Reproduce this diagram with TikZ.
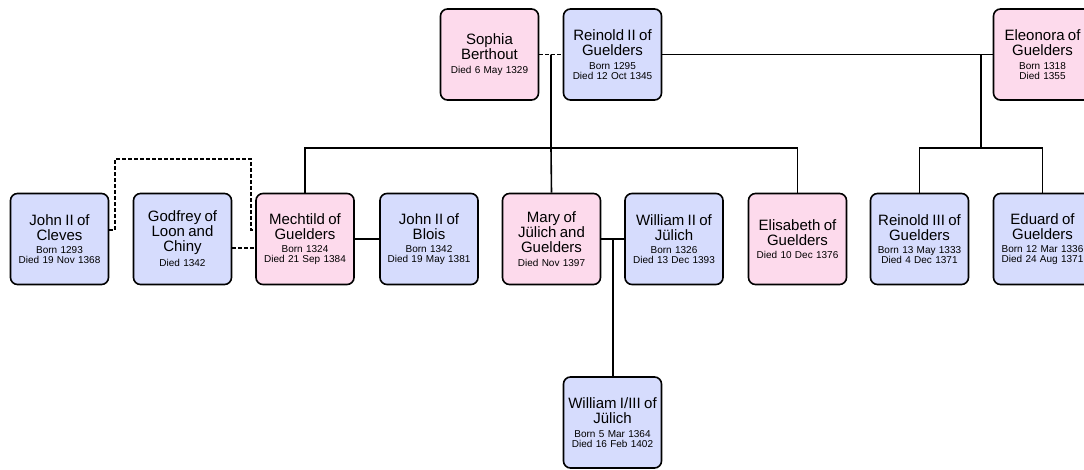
\documentclass[tikz,border=0pt]{standalone}
\usepackage{fontspec}
\setmainfont{Liberation Sans}
\usetikzlibrary{calc}
\definecolor{pinkf}{RGB}{253,218,236}
\definecolor{bluef}{RGB}{214,220,253}
\newcommand{\nm}{\fontsize{15}{15}\selectfont}
\newcommand{\dt}{\fontsize{10}{10}\selectfont}
\newcommand{\person}[2]{{\nm #1\par}\vspace{3.5pt}{\dt #2\par}}
\tikzset{
  pbox/.style={draw=black, line width=1.6pt, rounded corners=7pt,
    minimum width=98pt, minimum height=91pt, inner sep=0pt, align=center, text width=96pt},
  female/.style={pbox, fill=pinkf},
  male/.style={pbox, fill=bluef},
  rel/.style={line width=1.6pt},
  marr/.style={line width=1.6pt, dash pattern=on 3.5pt off 2.5pt},
}
\begin{document}
\begin{tikzpicture}[x=1pt,y=-1pt]
\useasboundingbox (0,0) rectangle (1084,469);
\clip (0,0) rectangle (1084,469);
% generation 1
\node[female] (sophia) at (489.5,54.5) {\person{Sophia\\Berthout}{Died 6 May 1329}};
\node[male] (reinold2) at (612.5,54.5) {\person{Reinold II of\\Guelders}{Born 1295\\Died 12 Oct 1345}};
\node[female] (eleonora) at (1042.5,54.5) {\person{Eleonora of\\Guelders}{Born 1318\\Died 1355}};
% generation 2
\node[male] (cleves) at (59.5,239) {\person{John II of\\Cleves}{Born 1293\\Died 19 Nov 1368}};
\node[male] (godfrey) at (182.5,239) {\person{Godfrey of\\Loon and\\Chiny}{Died 1342}};
\node[female] (mechtild) at (305,239) {\person{Mechtild of\\Guelders}{Born 1324\\Died 21 Sep 1384}};
\node[male] (blois) at (429,239) {\person{John II of\\Blois}{Born 1342\\Died 19 May 1381}};
\node[female] (mary) at (551.5,239) {\person{Mary of\\J\"ulich and\\Guelders}{Died Nov 1397}};
\node[male] (william2) at (674,239) {\person{William II of\\J\"ulich}{Born 1326\\Died 13 Dec 1393}};
\node[female] (elisabeth) at (797.5,239) {\person{Elisabeth of\\Guelders}{Died 10 Dec 1376}};
\node[male] (reinold3) at (919.5,239) {\person{Reinold III of\\Guelders}{Born 13 May 1333\\Died 4 Dec 1371}};
\node[male] (eduard) at (1042.5,239) {\person{Eduard of\\Guelders}{Born 12 Mar 1336\\Died 24 Aug 1371}};
% generation 3
\node[male] (william13) at (612.5,422.5) {\person{William I/III of\\J\"ulich}{Born 5 Mar 1364\\Died 16 Feb 1402}};
% first marriage of Reinold II
\draw[marr] (sophia.east) -- (reinold2.west);
\coordinate (m1) at ($(sophia.east)!.5!(reinold2.west)$);
\coordinate (b1) at (551,148);
\draw[rel] (m1) -- (b1);
\draw[rel] (mechtild.north) |- (b1) -| (elisabeth.north);
\draw[rel] (b1) -- (mary.north);
% second marriage of Reinold II
\draw[rel] (reinold2.east) -- (eleonora.west);
\coordinate (m2) at (981,54.5);
\coordinate (b2) at (981,148);
\draw[rel] (m2) -- (b2);
\draw[rel] (reinold3.north) |- (b2) -| (eduard.north);
% Mechtild's marriages
\draw[rel] (mechtild.east) -- (blois.west);
\draw[marr] ([yshift=-9pt]godfrey.east) -- ([yshift=-9pt]mechtild.west);
\coordinate (c1) at (115,159);
\coordinate (c2) at (251,159);
\draw[marr] ([yshift=9pt]cleves.east) -| (c1) -- (c2) |- ([yshift=9pt]mechtild.west);
% Mary and William II
\draw[rel] (mary.east) -- (william2.west);
\coordinate (m3) at ($(mary.east)!.5!(william2.west)$);
\draw[rel] (m3) -- (m3 |- william13.north);
\end{tikzpicture}
\end{document}
